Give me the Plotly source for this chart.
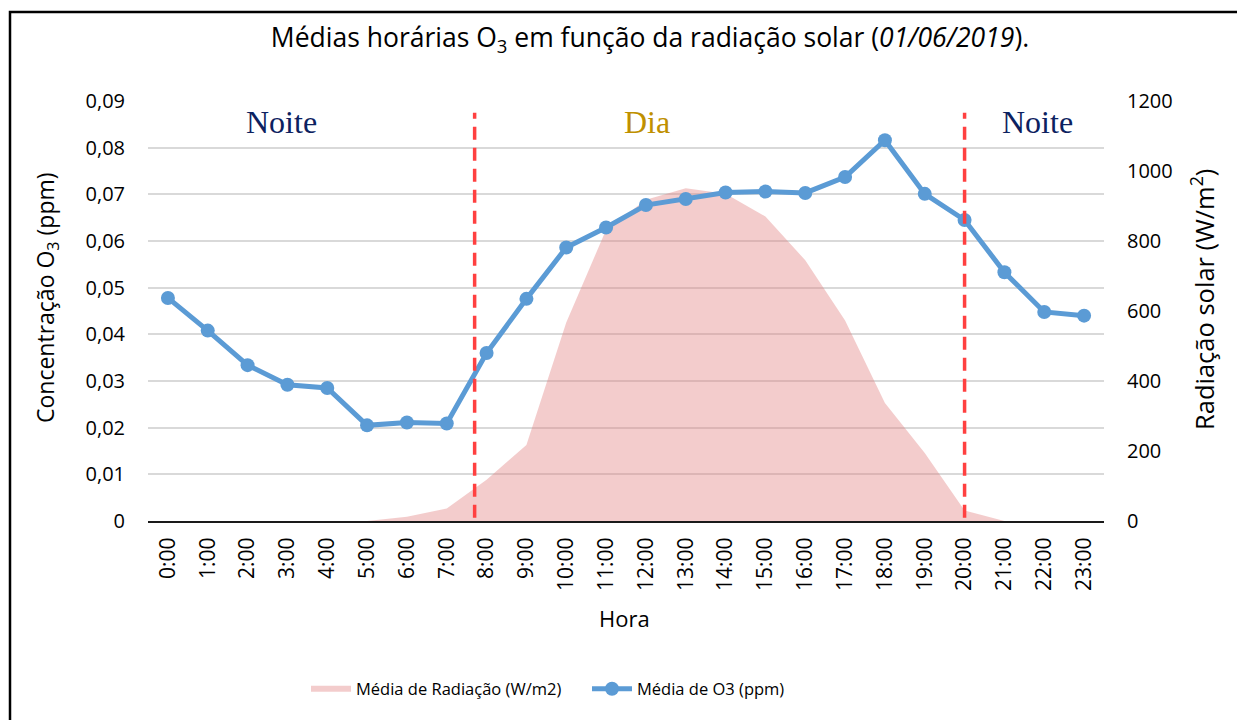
import plotly.graph_objects as go

# Hourly labels and averages
horas = ["0:00", "1:00", "2:00", "3:00", "4:00", "5:00", "6:00", "7:00",
         "8:00", "9:00", "10:00", "11:00", "12:00", "13:00", "14:00", "15:00",
         "16:00", "17:00", "18:00", "19:00", "20:00", "21:00", "22:00", "23:00"]
o3_ppm = [0.0478, 0.0408, 0.0334, 0.0292, 0.0285, 0.0205, 0.0211, 0.0209,
          0.0360, 0.0476, 0.0586, 0.0629, 0.0677, 0.0690, 0.0704, 0.0706,
          0.0703, 0.0737, 0.0816, 0.0701, 0.0645, 0.0533, 0.0448, 0.0440]
radiacao = [0, 0, 0, 0, 0, 0, 12, 36,
            118, 217, 567, 832, 918, 951, 935, 870,
            745, 573, 337, 194, 30, 0, 0, 0]

o3_ticks = [0, 0.01, 0.02, 0.03, 0.04, 0.05, 0.06, 0.07, 0.08, 0.09]
o3_tick_text = ["0", "0,01", "0,02", "0,03", "0,04", "0,05", "0,06", "0,07", "0,08", "0,09"]
rad_ticks = [0, 200, 400, 600, 800, 1000, 1200]
rad_tick_text = ["0", "200", "400", "600", "800", "1000", "1200"]

# Day / night boundaries (hour position) and region labels
limites = [7.7, 20.0]
periodos = ["Noite", "Dia", "Noite"]
periodo_pos = [2.86, 12.03, 21.82]
periodo_cor = ["#0C2160", "#BF9000", "#0C2160"]

x = list(range(len(horas)))
font_main = "Open Sans"

fig = go.Figure()
fig.add_trace(go.Scatter(
    x=x, y=radiacao, name="Média de Radiação (W/m2)", yaxis="y",
    mode="none", fill="tozeroy", fillcolor="rgba(224,128,128,0.40)",
))
fig.add_trace(go.Scatter(
    x=x, y=o3_ppm, name="Média de O3 (ppm)", yaxis="y2",
    mode="lines+markers", line=dict(color="#5B9BD5", width=5),
    marker=dict(color="#5B9BD5", size=14),
))

shapes = []
for lx in limites:
    shapes.append(dict(type="line", xref="x", yref="y2", x0=lx, x1=lx,
                       y0=0.0007, y1=0.0875, layer="above",
                       line=dict(color="#FF4040", width=3.5, dash="13px,8px")))
# outer frame
shapes.append(dict(type="rect", xref="paper", yref="paper",
                   x0=(10 - 148) / 956, x1=1.3, y0=-0.6, y1=(521 - 12) / 420,
                   line=dict(color="#000000", width=2.5), layer="below"))

annotations = []
for txt, px, c in zip(periodos, periodo_pos, periodo_cor):
    annotations.append(dict(text=txt, x=px, y=0.0855, xref="x", yref="y2",
                            showarrow=False, xanchor="center", yanchor="middle",
                            font=dict(family="Liberation Serif", size=32, color=c)))
annotations.append(dict(text="Concentração O<sub>3</sub> (ppm)", textangle=-90,
                        x=(46 - 148) / 956, y=(521 - 298) / 420, xref="paper", yref="paper",
                        xanchor="center", yanchor="middle", showarrow=False,
                        font=dict(family=font_main, size=23, color="#000")))
annotations.append(dict(text="Radiação solar (W/m<sup>2</sup>)", textangle=-90,
                        x=(1202 - 148) / 956, y=(521 - 300) / 420, xref="paper", yref="paper",
                        xanchor="center", yanchor="middle", showarrow=False,
                        font=dict(family=font_main, size=25.5, color="#000")))
annotations.append(dict(text="Hora", x=(624 - 148) / 956, y=(521 - 618) / 420,
                        xref="paper", yref="paper", xanchor="center", yanchor="middle",
                        showarrow=False,
                        font=dict(family=font_main, size=22, color="#000")))

fig.update_layout(
    width=1237, height=720,
    margin=dict(l=148, r=133, t=101, b=199),
    paper_bgcolor="white", plot_bgcolor="white",
    font=dict(family=font_main, color="#000"),
    title=dict(text="Médias horárias O<sub>3</sub> em função da radiação solar (<i>01/06/2019</i>).",
               x=(650 - 148) / 956, xref="paper", xanchor="center",
               y=1 - 38 / 720, yanchor="middle",
               font=dict(family=font_main, size=26.5, color="#000")),
    xaxis=dict(range=[-0.5, 23.5], tickmode="array", tickvals=x, ticktext=horas,
               tickangle=-90, showgrid=False, showline=True, linecolor="#1a1a1a",
               linewidth=2, ticks="", tickfont=dict(size=21), zeroline=False,
               ticklabelstandoff=6),
    yaxis=dict(range=[0, 1200], side="right", tickmode="array", tickvals=rad_ticks,
               ticktext=rad_tick_text, showgrid=False, zeroline=False,
               tickfont=dict(size=20), ticks="", ticklabelstandoff=22),
    yaxis2=dict(range=[0, 0.09], overlaying="y", side="left", tickmode="array",
                tickvals=o3_ticks, ticktext=o3_tick_text, showgrid=True,
                gridcolor="#D9D9D9", gridwidth=1.5, zeroline=False,
                tickfont=dict(size=20), ticks="", ticklabelstandoff=22),
    legend=dict(orientation="h", x=(306 - 148) / 956, xanchor="left",
                y=(521 - 689) / 420, yanchor="middle",
                font=dict(family=font_main, size=16.5, color="#000"),
                itemwidth=40, traceorder="normal", entrywidth=226),
    shapes=shapes, annotations=annotations,
)

fig.write_html("out.html")
